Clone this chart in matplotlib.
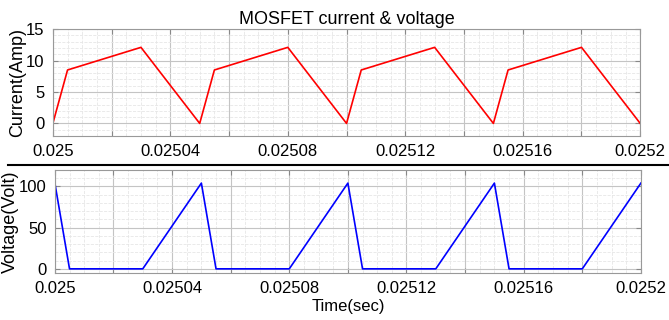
import numpy as np
import matplotlib.pyplot as plt
from matplotlib.ticker import MultipleLocator, FuncFormatter

plt.rcParams['font.family'] = ['Liberation Sans', 'DejaVu Sans']

# knot times of the switching waveforms (sec)
t = [0.025, 0.025005, 0.02503, 0.02505, 0.025055, 0.02508, 0.0251,
     0.025105, 0.02513, 0.02515, 0.025155, 0.02518, 0.0252]
current = [0, 8.5, 12.1, 0, 8.5, 12.1, 0, 8.5, 12.1, 0, 8.5, 12.1, 0]
voltage = [104, 0, 0, 104, 0, 0, 104, 0, 0, 104, 0, 0, 104]
xticks = [0.025, 0.02504, 0.02508, 0.02512, 0.02516, 0.0252]

fig = plt.figure(figsize=(6.69, 3.2), dpi=100)
ax1 = fig.add_axes([0.079, 0.575, 0.878, 0.334])
ax2 = fig.add_axes([0.082, 0.147, 0.876, 0.322])

def fmt(v, pos):
    for xt in xticks:
        if abs(v - xt) < 1e-9:
            return ('%.5f' % xt).rstrip('0')
    return ''

def style(ax):
    ax.set_xlim(0.025, 0.0252)
    ax.xaxis.set_major_locator(MultipleLocator(0.00002))
    ax.xaxis.set_minor_locator(MultipleLocator(0.000005))
    ax.xaxis.set_major_formatter(FuncFormatter(fmt))
    ax.grid(which='major', color='#c4c4c4', lw=0.8)
    ax.grid(which='minor', color='#e6e6e6', lw=0.6, ls='--')
    ax.tick_params(which='both', direction='in', top=True, right=True,
                   color='#888888', labelsize=12, pad=6)
    ax.tick_params(which='minor', length=0)
    for s in ax.spines.values():
        s.set_color('#999999')
    ax.set_axisbelow(True)

ax1.plot(t, current, color='red', lw=1.2)
ax1.set_ylim(-2, 15)
ax1.yaxis.set_major_locator(MultipleLocator(5))
ax1.yaxis.set_minor_locator(MultipleLocator(1))
ax1.set_ylabel('Current(Amp)', fontsize=13, labelpad=0)
ax1.set_title('MOSFET current & voltage', fontsize=13, pad=4)
style(ax1)

ax2.plot(t, voltage, color='blue', lw=1.2)
ax2.set_ylim(-5, 120)
ax2.yaxis.set_major_locator(MultipleLocator(50))
ax2.yaxis.set_minor_locator(MultipleLocator(10))
ax2.set_ylabel('Voltage(Volt)', fontsize=13, labelpad=0)
ax2.set_xlabel('Time(sec)', fontsize=12, labelpad=2)
style(ax2)

# separator line between the panels
fig.add_artist(plt.Line2D([0.012, 1.0], [0.484, 0.484], color='black', lw=1.5))

fig.savefig('out.png', dpi=100)
